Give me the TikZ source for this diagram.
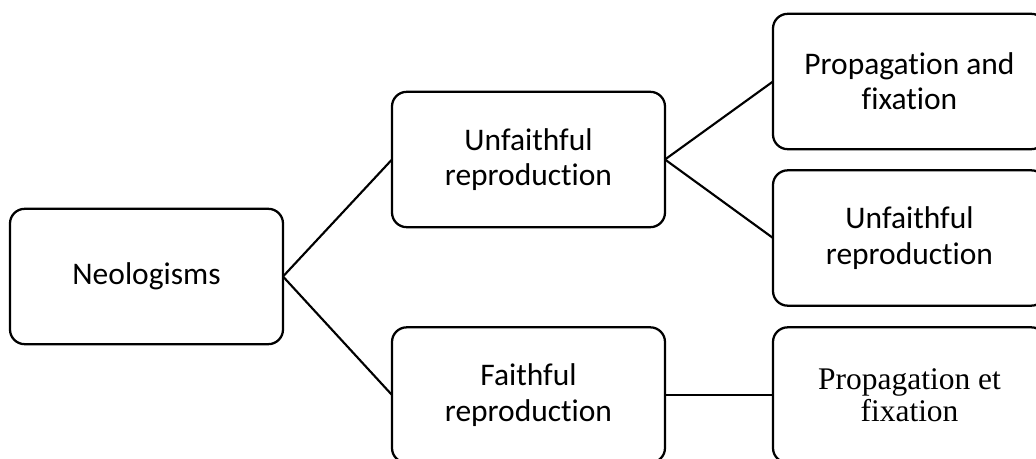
\documentclass[tikz,border=0pt]{standalone}
\usepackage{fontspec}
\setmainfont[RawFeature=-liga]{Carlito}
\newfontfamily\timesfont{Liberation Serif}
\begin{document}
\begin{tikzpicture}[x=0.75pt,y=-0.75pt,
  box/.style={draw=black, line width=1.7pt, rounded corners=11pt, fill=white,
    minimum width=204.75pt, minimum height=101.5pt, inner sep=0pt, outer sep=0pt,
    align=center, font=\fontsize{23.6}{26.5}\selectfont},
  serifbox/.style={box, font=\timesfont\fontsize{23.6}{24}\selectfont},
  link/.style={draw=black, line width=1.6pt}]
\useasboundingbox (0,0) rectangle (1036,459);
\clip (0,0) rectangle (1036,459);
\node[box] (neo) at (146.5,276.5) {Neologisms};
\node[box] (unf) at (528.5,159.5) {Unfaithful\\reproduction};
\node[box] (fai) at (528.5,395) {Faithful\\reproduction};
\node[box] (prop) at (909.5,81.5) {Propagation and\\fixation};
\node[box] (unf2) at (909.5,238) {Unfaithful\\reproduction};
\node[serifbox] (pet) at (909.5,395) {Propagation et\\fixation};
\draw[link] (neo.east) -- (unf.west);
\draw[link] (neo.east) -- (fai.west);
\draw[link] (unf.east) -- (prop.west);
\draw[link] (unf.east) -- (unf2.west);
\draw[link] (fai.east) -- (pet.west);
\end{tikzpicture}
\end{document}
